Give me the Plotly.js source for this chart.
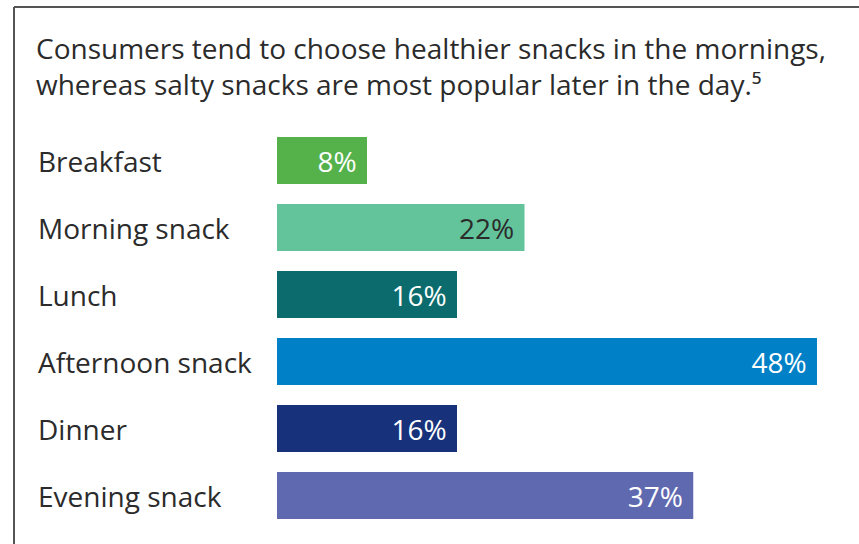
<!DOCTYPE html>
<html><head><meta charset="utf-8">
<script src="https://cdn.plot.ly/plotly-3.0.1.min.js"></script>
<style>html,body{margin:0;padding:0;background:#fff}#chart{width:859px;height:544px}</style>
</head><body><div id="chart"></div>
<script>
const categories = ["Breakfast", "Morning snack", "Lunch", "Afternoon snack", "Dinner", "Evening snack"];
const values = [8, 22, 16, 48, 16, 37];
const barColors = ["#55b24b", "#63c49b", "#0b6b6d", "#0080c6", "#17317a", "#5f69b0"];
const textColors = ["#ffffff", "#2b2b2b", "#ffffff", "#ffffff", "#ffffff", "#ffffff"];
const titleText = "Consumers tend to choose healthier snacks in the mornings,<br>whereas salty snacks are most popular later in the day.\u2075";

const W = 859, H = 544;
const M = {l: 277, r: 42, t: 127, b: 15};
const pw = W - M.l - M.r, ph = H - M.t - M.b;
const px2x = p => (p - M.l) / pw;
const py2y = p => (H - M.b - p) / ph;
const FONT = "'Open Sans', Lato, sans-serif";

const trace = {
  type: "bar", orientation: "h",
  y: categories, x: values,
  marker: {color: barColors},
  text: values.map(v => v + "%\u00a0"),
  textposition: "inside", insidetextanchor: "end",
  textfont: {family: FONT, size: 28, color: textColors},
  hoverinfo: "skip", cliponaxis: false
};

const annotations = categories.map(c => ({
  xref: "paper", yref: "y", x: px2x(36), y: c, xanchor: "left", yanchor: "middle",
  text: c, showarrow: false, font: {family: FONT, size: 28, color: "#2b2b2b"}
}));

const layout = {
  width: W, height: H, margin: M,
  paper_bgcolor: "#fff", plot_bgcolor: "#fff",
  showlegend: false, bargap: 0.3,
  title: {text: titleText, xref: "container", yref: "container", x: 36 / W, xanchor: "left",
          y: 1 - 59 / H, yanchor: "top", font: {family: FONT, size: 28, color: "#2b2b2b"}},
  xaxis: {range: [0, 48], visible: false, fixedrange: true},
  yaxis: {autorange: "reversed", showticklabels: false, showgrid: false, zeroline: false, ticks: "", fixedrange: true},
  annotations: annotations,
  shapes: [
    {type: "line", xref: "paper", yref: "paper", x0: px2x(14), x1: px2x(14), y0: py2y(7), y1: py2y(560), line: {color: "#555", width: 2}},
    {type: "line", xref: "paper", yref: "paper", x0: px2x(14), x1: px2x(880), y0: py2y(7), y1: py2y(7), line: {color: "#555", width: 2}}
  ]
};
Plotly.newPlot("chart", [trace], layout, {displayModeBar: false, staticPlot: true});
</script></body></html>
